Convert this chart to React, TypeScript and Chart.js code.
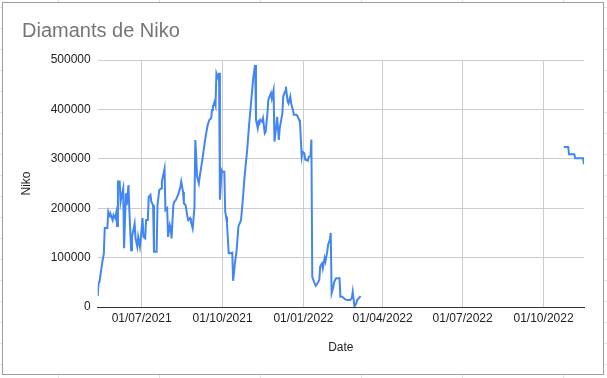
import { useEffect, useRef } from 'react';
import { Chart, registerables } from 'chart.js';

Chart.register(...registerables);

const chartTitle = 'Diamants de Niko';
const xTitle = 'Date';
const yTitle = 'Niko';

const dates: string[] = [
  '2021-05-12', '2021-05-13', '2021-05-14', '2021-05-17', '2021-05-19', '2021-05-20', '2021-05-23', '2021-05-24',
  '2021-05-26', '2021-05-27', '2021-05-29', '2021-05-30', '2021-06-01', '2021-06-02', '2021-06-03', '2021-06-04',
  '2021-06-06', '2021-06-07', '2021-06-08', '2021-06-10', '2021-06-11', '2021-06-13', '2021-06-14', '2021-06-16',
  '2021-06-17', '2021-06-19', '2021-06-20', '2021-06-23', '2021-06-24', '2021-06-26', '2021-06-27', '2021-06-29',
  '2021-06-30', '2021-07-02', '2021-07-03', '2021-07-05', '2021-07-06', '2021-07-08', '2021-07-09', '2021-07-11',
  '2021-07-12', '2021-07-14', '2021-07-15', '2021-07-18', '2021-07-19', '2021-07-21', '2021-07-23', '2021-07-24',
  '2021-07-27', '2021-07-28', '2021-07-30', '2021-07-31', '2021-08-02', '2021-08-03', '2021-08-04', '2021-08-06',
  '2021-08-07', '2021-08-09', '2021-08-12', '2021-08-14', '2021-08-15', '2021-08-17', '2021-08-18', '2021-08-20',
  '2021-08-22', '2021-08-23', '2021-08-25', '2021-08-26', '2021-08-28', '2021-08-30', '2021-08-31', '2021-09-01',
  '2021-09-02', '2021-09-04', '2021-09-05', '2021-09-08', '2021-09-10', '2021-09-12', '2021-09-14', '2021-09-16',
  '2021-09-18', '2021-09-19', '2021-09-20', '2021-09-22', '2021-09-23', '2021-09-24', '2021-09-26', '2021-09-27',
  '2021-09-28', '2021-09-30', '2021-10-01', '2021-10-03', '2021-10-04', '2021-10-05', '2021-10-06', '2021-10-08',
  '2021-10-10', '2021-10-12', '2021-10-13', '2021-10-15', '2021-10-17', '2021-10-19', '2021-10-22', '2021-10-24',
  '2021-10-26', '2021-10-29', '2021-10-31', '2021-11-03', '2021-11-05', '2021-11-07', '2021-11-08', '2021-11-10',
  '2021-11-11', '2021-11-12', '2021-11-13', '2021-11-15', '2021-11-16', '2021-11-18', '2021-11-19', '2021-11-21',
  '2021-11-22', '2021-11-25', '2021-11-26', '2021-11-28', '2021-11-29', '2021-12-01', '2021-12-02', '2021-12-04',
  '2021-12-05', '2021-12-08', '2021-12-09', '2021-12-11', '2021-12-12', '2021-12-14', '2021-12-15', '2021-12-17',
  '2021-12-18', '2021-12-20', '2021-12-21', '2021-12-24', '2021-12-25', '2021-12-27', '2021-12-28', '2021-12-30',
  '2021-12-31', '2022-01-02', '2022-01-03', '2022-01-06', '2022-01-07', '2022-01-09', '2022-01-10', '2022-01-11',
  '2022-01-13', '2022-01-15', '2022-01-17', '2022-01-19', '2022-01-20', '2022-01-22', '2022-01-23', '2022-01-25',
  '2022-01-26', '2022-01-28', '2022-01-29', '2022-01-31', '2022-02-01', '2022-02-02', '2022-02-04', '2022-02-05',
  '2022-02-07', '2022-02-11', '2022-02-12', '2022-02-14', '2022-02-17', '2022-02-20', '2022-02-23', '2022-02-25',
  '2022-02-26', '2022-02-28', '2022-03-02', '2022-03-03', '2022-03-05', '2022-03-07',
  '2022-06-01',
  '2022-10-24', '2022-10-29', '2022-10-30', '2022-11-05', '2022-11-06', '2022-11-15', '2022-11-16',
];

const diamonds: (number | null)[] = [
  22000, 48000, 51000, 88000, 109000, 160000, 160000, 193000,
  183000, 186000, 176000, 186000, 180000, 190000, 164000, 254000,
  254000, 213000, 223000, 240000, 119000, 230000, 206000, 247000,
  196000, 115000, 142000, 169000, 139000, 122000, 142000, 122000,
  139000, 180000, 142000, 139000, 176000, 176000, 223000, 227000,
  213000, 206000, 112000, 112000, 206000, 237000, 240000, 254000,
  280000, 196000, 200000, 142000, 166000, 159000, 139000, 206000,
  213000, 217000, 230000, 243000, 254000, 233000, 210000, 206000,
  183000, 176000, 180000, 173000, 159000, 200000, 338000, 304000,
  264000, 250000, 264000, 298000, 324000, 348000, 368000, 379000,
  382000, 399000, 405000, 416000, 409000, 473000, 463000, 474000,
  217000, 277000, 274000, 274000, 193000, 183000, 169000, 109000,
  109000, 110000, 53000, 88000, 115000, 163000, 176000, 217000,
  264000, 318000, 365000, 426000, 466000, 490000, 379000, 362000,
  375000, 372000, 379000, 375000, 382000, 352000, 355000, 392000,
  419000, 433000, 422000, 439000, 335000, 365000, 385000, 338000,
  362000, 392000, 426000, 436000, 446000, 416000, 412000, 426000,
  412000, 399000, 389000, 389000, 387000, 379000, 375000, 304000,
  314000, 311000, 298000, 296000, 304000, 306000, 339000, 61000,
  51000, 43000, 48000, 55000, 82000, 88000, 78000, 99000,
  92000, 112000, 126000, 136000, 150000, 28000, 41000, 51000,
  58000, 58000, 21000, 21000, 16000, 14000, 14000, 18000,
  31000, 1000, 7000, 14000, 18000, 22000,
  null,
  324000, 324000, 309000, 309000, 301000, 301000, 289000,
];

const xTickDates: string[] = ['2021-07-01', '2021-10-01', '2022-01-01', '2022-04-01', '2022-07-01', '2022-10-01'];
const yTickValues: number[] = [0, 100000, 200000, 300000, 400000, 500000];

const toTs = (s: string) => {
  const [y, m, d] = s.split('-').map(Number);
  return Date.UTC(y, m - 1, d);
};
const pad = (n: number) => (n < 10 ? '0' + n : String(n));
const fmtDate = (v: number) => {
  const d = new Date(v);
  return pad(d.getUTCDate()) + '/' + pad(d.getUTCMonth() + 1) + '/' + d.getUTCFullYear();
};

const FONT = "Arial, 'Liberation Sans', sans-serif";

export default function App() {
  const ref = useRef<HTMLCanvasElement>(null);

  useEffect(() => {
    document.body.style.margin = '0';
    const canvas = ref.current;
    if (!canvas) return;
    const points = dates.map((d, i) => ({ x: toTs(d), y: diamonds[i] }));
    const chart = new Chart(canvas, {
      type: 'line',
      data: {
        datasets: [
          {
            data: points as any,
            borderColor: '#4285f4',
            backgroundColor: '#4285f4',
            borderWidth: 2,
            pointRadius: 0,
            tension: 0,
            spanGaps: false,
            fill: false,
          },
        ],
      },
      options: {
        animation: false,
        responsive: false,
        maintainAspectRatio: false,
        layout: { padding: { left: 19, right: 19, top: 0, bottom: 19 } },
        plugins: {
          legend: { display: false },
          tooltip: { enabled: false },
          title: {
            display: true,
            text: chartTitle,
            align: 'start',
            color: '#757575',
            font: { family: FONT, size: 20, weight: 'normal' as any, lineHeight: 1.2 },
            padding: { top: 16, bottom: 17 },
          },
        },
        scales: {
          x: {
            type: 'linear',
            min: toTs(dates[0]),
            max: toTs(dates[dates.length - 1]),
            afterBuildTicks: (s: any) => {
              s.ticks = xTickDates.map((d) => ({ value: toTs(d) }));
            },
            afterFit: (s: any) => {
              s.height = 48;
            },
            ticks: {
              callback: (v: any) => fmtDate(Number(v)),
              color: '#222222',
              font: { family: FONT, size: 12 },
              padding: 4,
              maxRotation: 0,
              autoSkip: false,
            },
            grid: { color: '#cccccc', drawTicks: false },
            border: { display: true, color: '#333333', width: 1 },
            title: {
              display: true,
              text: xTitle,
              color: '#222222',
              font: { family: FONT, size: 12 },
              padding: { top: 0, bottom: 0 },
            },
          },
          y: {
            type: 'linear',
            min: 0,
            max: 500000,
            afterBuildTicks: (s: any) => {
              s.ticks = yTickValues.map((v) => ({ value: v }));
            },
            afterFit: (s: any) => {
              s.width = 75.7;
            },
            ticks: {
              callback: (v: any) => String(v),
              color: '#222222',
              font: { family: FONT, size: 12 },
              padding: 7,
            },
            grid: { color: '#cccccc', drawTicks: false },
            border: { display: false },
            title: {
              display: true,
              text: yTitle,
              color: '#222222',
              font: { family: FONT, size: 12, lineHeight: 0.8 },
              padding: { top: 0, bottom: 0 },
            },
          },
        },
      },
    });
    return () => chart.destroy();
  }, []);

  return (
    <div
      style={{
        position: 'relative',
        width: 607,
        height: 378,
        overflow: 'hidden',
        backgroundColor: '#ffffff',
        backgroundImage:
          'linear-gradient(to right, #e2e2e2 1px, transparent 1px), linear-gradient(to bottom, #e2e2e2 1px, transparent 1px)',
        backgroundSize: '101px 100%, 100% 21px',
        backgroundPosition: '58px 0, 0 7px',
      }}
    >
      <div
        style={{
          position: 'absolute',
          left: 2,
          top: 2,
          width: 600,
          height: 371,
          border: '1px solid #9e9e9e',
          background: '#ffffff',
        }}
      >
        <canvas ref={ref} width={600} height={371} style={{ display: 'block', width: 600, height: 371 }} />
      </div>
    </div>
  );
}
